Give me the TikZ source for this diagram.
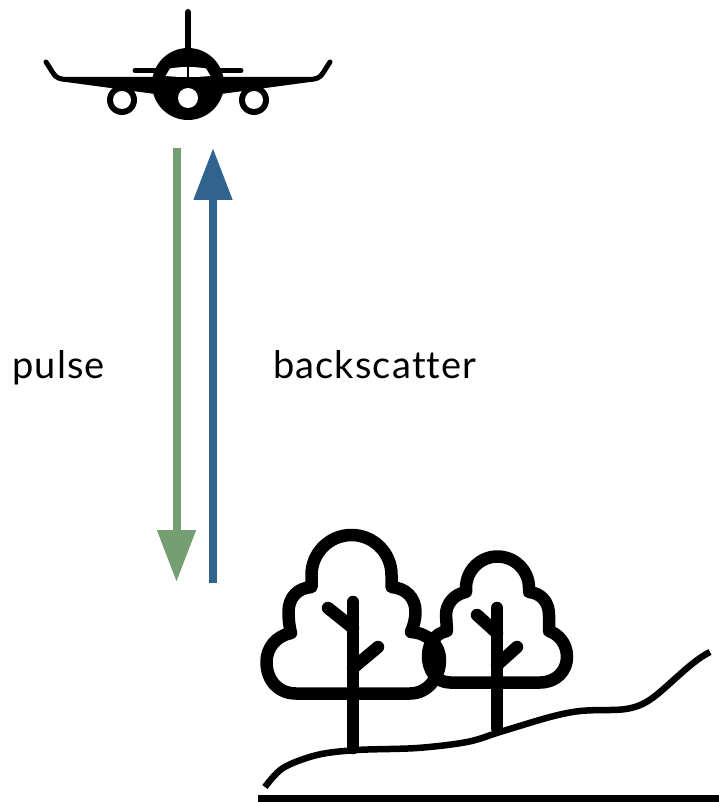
\documentclass[tikz,border=0pt]{standalone}
\usepackage{fontspec}
\setmainfont{Lato}[Ligatures=NoCommon, LetterSpace=3]
\usetikzlibrary{arrows.meta}
\definecolor{pulsegreen}{HTML}{769E73}
\definecolor{scatterblue}{HTML}{30648E}
\begin{document}
\begin{tikzpicture}[x=1pt,y=-1pt,
  ink/.style={line width=12.5pt, line join=round, line cap=round},
  beam/.style={line width=8pt, -{Triangle[width=37pt,length=52pt]}},
  beamtext/.style={font=\fontsize{38}{42}\selectfont, anchor=base west, inner sep=0pt}]
\useasboundingbox (0,0) rectangle (719,802);

% ---------- aircraft ----------
\draw[line width=6pt, line cap=round] (188,12) -- (188,60);
\draw[line width=5pt, line cap=round] (135,70.5) -- (241,70.5);
\draw[line width=5pt, line cap=round, line join=round]
  (46,62) -- (53,73) .. controls (56,78) and (60,79.5) .. (68,79.5) -- (170,79.5);
\draw[line width=5pt, line cap=round, line join=round]
  (330,62) -- (323,73) .. controls (320,78) and (316,79.5) .. (308,79.5) -- (206,79.5);
\fill (66,79) -- (170,79) -- (170,96) -- (66,82) -- cycle;
\fill (310,79) -- (206,79) -- (206,96) -- (310,82) -- cycle;
\fill (122,100) circle (15pt);
\fill[white] (122,100) circle (9pt);
\fill (254,100) circle (15pt);
\fill[white] (254,100) circle (9pt);
\fill (188,84) circle (36pt);
\fill[white] (165.5,76) -- (170,68.5) .. controls (176,67.5) and (181,67) .. (186.8,67)
  -- (186.8,77) .. controls (178,77) and (171,76.5) .. (165.5,76) -- cycle;
\fill[white] (210.5,76) -- (206,68.5) .. controls (200,67.5) and (195,67) .. (189.2,67)
  -- (189.2,77) .. controls (198,77) and (205,76.5) .. (210.5,76) -- cycle;
\fill[white] (188,98) circle (10pt);

% ---------- beams ----------
\coordinate (pulsetop) at (176.5,148);
\coordinate (pulseend) at (176.5,582);
\coordinate (scatterbase) at (213,583);
\coordinate (scattertip) at (213,148);
\draw[beam, pulsegreen] (pulsetop) -- (pulseend);
\draw[beam, scatterblue] (scatterbase) -- (scattertip);
\node[beamtext] (pulselabel) at (12,378) {pulse};
\node[beamtext] (scatterlabel) at (273,378) {backscatter};

% ---------- trees ----------
% larger tree crown
\draw[ink] (296,693.5) -- (410,693.5)
  .. controls (428,693.5) and (440,677) .. (440,660)
  .. controls (440,645) and (428,633) .. (411,632)
  .. controls (414,625) and (415.5,618) .. (415.5,612)
  .. controls (415.5,597) and (405,588) .. (391.5,587)
  -- (391.5,575) arc[start angle=0, end angle=180, radius=40pt] -- (311.5,587)
  .. controls (298,588) and (288.5,597) .. (288.5,612)
  .. controls (288.5,618) and (289,625) .. (291,633)
  .. controls (276,636) and (266.5,648) .. (266.5,662)
  .. controls (266.5,680) and (278,693.5) .. (296,693.5) -- cycle;
% larger tree trunk and branches
\draw[ink] (353,602) -- (353,748);
\draw[ink] (328,608) -- (353,628);
\draw[ink] (378,647) -- (353,668);

% smaller tree crown
\draw[ink] (450,682.5) -- (540,682.5)
  .. controls (556,682.5) and (567,671) .. (567,657)
  .. controls (567,643) and (558,634) .. (549,631)
  -- (549,615) .. controls (549,601) and (540,593) .. (529,592)
  -- (529,588) arc[start angle=0, end angle=180, radius=31.5pt] -- (466,592)
  .. controls (455,594) and (446,603) .. (446,615) -- (447,631)
  .. controls (436,633) and (428,643) .. (428,656)
  .. controls (428,670) and (436,682.5) .. (450,682.5) -- cycle;
% smaller tree trunk and branches
\draw[ink] (497,608) -- (497,728);
\draw[ink] (477,615) -- (497,633);
\draw[ink] (517,647) -- (497,665);

% ---------- ground ----------
\draw[line width=6.5pt, line join=round] plot[smooth, tension=0.55] coordinates {
  (265,787) (283,768) (317,755) (357,750) (417,748) (467,742) (500,732)
  (550,717) (580,711) (610,710)}
  .. controls (638,710) and (648,703) .. (668,685)
  .. controls (688,667) and (698,658) .. (710,652);
\draw[line width=7pt] (258,798.5) -- (719,798.5);
\end{tikzpicture}
\end{document}
